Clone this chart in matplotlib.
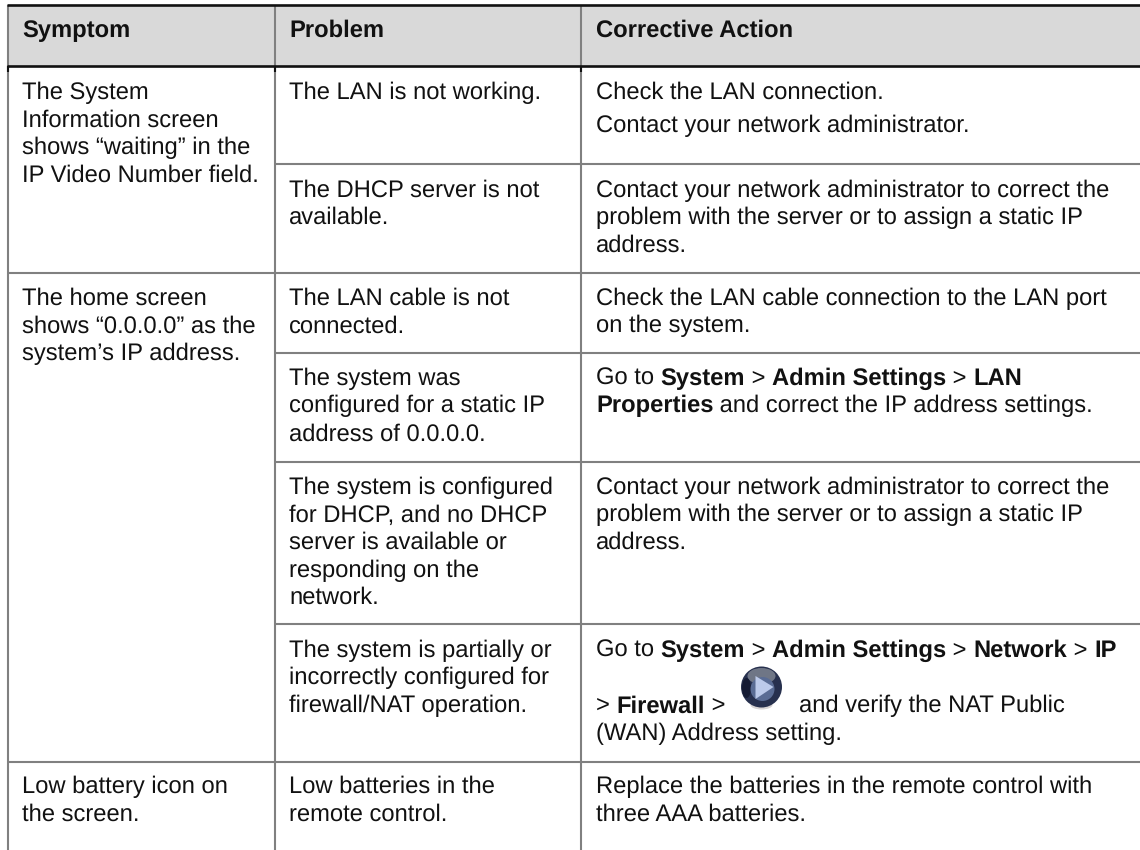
# -*- coding: UTF-8 -*-

import matplotlib
matplotlib.use('Agg')
import matplotlib.pyplot as plt
from matplotlib.patches import Circle, Ellipse, Polygon, Rectangle

plt.rcParams['font.family'] = ['Liberation Sans', 'DejaVu Sans']
plt.rcParams['text.hinting'] = 'none'

headers = ['Symptom', 'Problem', 'Corrective Action']

# each entry: (row baseline, text), ** marks bold
symptom_lines = [
    (99, 'The System'), (127, 'Information screen'), (154.5, 'shows “waiting” in the'),
    (182, 'IP Video Number field.'),
    (305, 'The home screen'), (332.5, 'shows “0.0.0.0” as the'), (360, 'system’s IP address.'),
    (793, 'Low battery icon on'), (821, 'the screen.'),
]
problem_lines = [
    (99, 'The LAN is not working.'),
    (197, 'The DHCP server is not'), (224, 'available.'),
    (305, 'The LAN cable is not'), (332.5, 'connected.'),
    (385, 'The system was'), (412.5, 'configured for a static IP'), (440.5, 'address of 0.0.0.0.'),
    (494, 'The system is configured'), (521.5, 'for DHCP, and no DHCP'), (549, 'server is available or'),
    (577, 'responding on the'), (604, 'network.'),
    (657, 'The system is partially or'), (684.5, 'incorrectly configured for'), (712, 'firewall/NAT operation.'),
    (793, 'Low batteries in the'), (821, 'remote control.'),
]
action_lines = [
    (99, 'Check the LAN connection.'), (132.5, 'Contact your network administrator.'),
    (197, 'Contact your network administrator to correct the'),
    (224.5, 'problem with the server or to assign a static IP'), (252, 'address.'),
    (305, 'Check the LAN cable connection to the LAN port'), (332.5, 'on the system.'),
    (385, 'Go to **System** > **Admin Settings** > **LAN**'),
    (412.5, '**Properties** and correct the IP address settings.'),
    (494, 'Contact your network administrator to correct the'),
    (521.5, 'problem with the server or to assign a static IP'), (549, 'address.'),
    (657, 'Go to **System** > **Admin Settings** > **Network** > **IP**'),
    (712.5, '> **Firewall** > '),
    (740, '(WAN) Address setting.'),
    (793, 'Replace the batteries in the remote control with'), (821, 'three AAA batteries.'),
]
after_icon_text = 'and verify the NAT Public'

col_x = [7.5, 275, 581]
text_x = [22, 289, 596]
table_right = 1140
partial_rows = [164, 353, 462, 624]
full_rows = [273, 762]

FS = 17.1
GRAY = '#808080'

fig = plt.figure(figsize=(11.4, 8.5), dpi=100)
ax = fig.add_axes([0, 0, 1, 1])
ax.set_xlim(0, 1140)
ax.set_ylim(850, 0)
ax.axis('off')

renderer = fig.canvas.get_renderer()


def text_width(s, weight):
    # pad with bars so spaces at the ends are counted
    t1 = ax.text(0, 0, '|' + s + '|', fontsize=FS, fontweight=weight)
    t2 = ax.text(0, 0, '||', fontsize=FS, fontweight=weight)
    w = t1.get_window_extent(renderer).width - t2.get_window_extent(renderer).width
    t1.remove()
    t2.remove()
    return w


def draw_line(x, y, markup, color='#111111'):
    for i, part in enumerate(markup.split('**')):
        if not part:
            continue
        weight = 'bold' if i % 2 else 'normal'
        ax.text(x, y, part, fontsize=FS, fontweight=weight, color=color, va='baseline', ha='left')
        x += text_width(part, weight)


# header band
ax.add_patch(Rectangle((col_x[0], 5), table_right - col_x[0], 61, color='#d9d9d9', lw=0))

# grid
for x in col_x:
    ax.plot([x, x], [5, 850], color=GRAY, lw=1.5, solid_capstyle='butt')
    ax.plot([x, x], [66, 72], color='#111111', lw=1.5, solid_capstyle='butt')
for y in partial_rows:
    ax.plot([col_x[1], table_right], [y, y], color=GRAY, lw=1.5, solid_capstyle='butt')
for y in full_rows:
    ax.plot([col_x[0], table_right], [y, y], color=GRAY, lw=1.5, solid_capstyle='butt')
for y in [5, 66]:
    ax.plot([col_x[0] - 1, table_right], [y, y], color='#111111', lw=1.9, solid_capstyle='butt')

for x, h in zip(text_x, headers):
    draw_line(x, 37, '**' + h + '**')

for x, lines in zip(text_x, [symptom_lines, problem_lines, action_lines]):
    for y, s in lines:
        draw_line(x, y, s)

draw_line(799, 712.5, after_icon_text)

# play icon
icon_x, icon_y = 761.5, 687
ax.add_patch(Ellipse((icon_x, icon_y + 18), 22, 9, color='#d8d4d4', lw=0))
ax.add_patch(Circle((icon_x, icon_y), 20.5, color='#27304e', lw=0))
ax.add_patch(Ellipse((icon_x, icon_y - 11), 28, 16, color='#6f7686', lw=0))
ax.add_patch(Ellipse((icon_x - 15, icon_y + 1), 9, 20, color='#141a33', lw=0))
ax.add_patch(Ellipse((icon_x + 1, icon_y + 2), 24, 24, color='#5a6c94', lw=0))
ax.add_patch(Polygon([(icon_x - 6, icon_y - 11), (icon_x - 6, icon_y + 12), (icon_x + 12, icon_y)],
                     color='#bccaea', lw=0))

fig.savefig('out.png', dpi=100)
